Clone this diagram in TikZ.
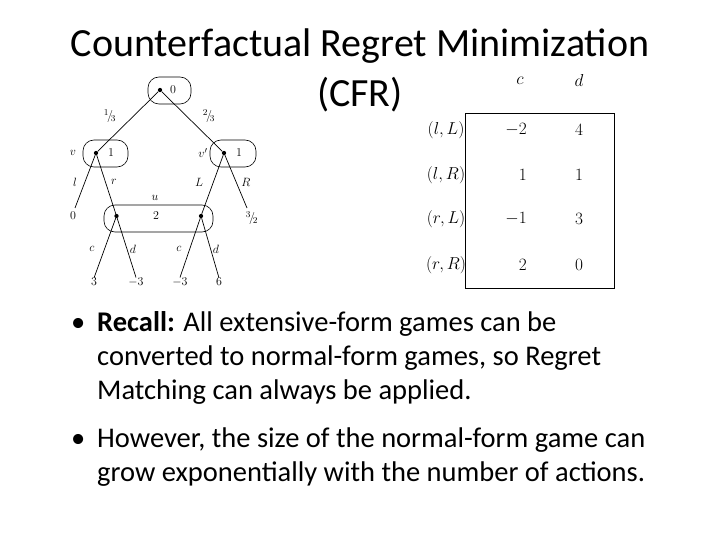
\documentclass[tikz,border=0pt]{standalone}
\usepackage{fontspec}
\setmainfont{Carlito}
\begin{document}
\begin{tikzpicture}[x=1pt,y=-1pt,
  dot/.style={circle,fill,inner sep=1.5pt},
  infoset/.style={draw,rounded corners=11pt,line width=0.6pt},
  lbl/.style={font=\fontsize{13}{15}\selectfont,inner sep=0pt},
  tbl/.style={font=\fontsize{16}{18}\selectfont,inner sep=0pt},
  edge/.style={line width=0.7pt}]
\useasboundingbox (0,0) rectangle (720,540);
\node[font=\fontsize{40}{50}\selectfont,align=center] (title) at (360,70) {Counterfactual Regret Minimization\\(CFR)};
% tree
\draw[infoset] (148,77) rectangle (191,104);
\draw[infoset] (83,140) rectangle (128,167);
\draw[infoset] (210,140) rectangle (256,167);
\draw[infoset] (104,205) rectangle (213,232);
\node[dot] (root) at (160,90) {};
\node[dot] (v) at (96,153) {};
\node[dot] (vp) at (224,153) {};
\node[dot] (u1) at (116.5,216) {};
\node[dot] (u2) at (201,216) {};
\node[lbl] (l0) at (73,216) {$0$};
\node[lbl] (l32) at (252,218) {$^3\!/\!_2$};
\coordinate (e0) at (75,208);
\coordinate (e32) at (247,208);
\node[lbl] (t1) at (94,282) {$3$};
\node[lbl] (t2) at (136,282) {$-3$};
\node[lbl] (t3) at (180,282) {$-3$};
\node[lbl] (t4) at (219,282) {$6$};
\draw[edge] (root) -- (v); \draw[edge] (root) -- (vp);
\draw[edge] (v) -- (e0); \draw[edge] (v) -- (u1) -- (t2.north);
\draw[edge] (vp) -- (e32); \draw[edge] (vp) -- (u2) -- (t3.north);
\draw[edge] (u1) -- (t1.north); \draw[edge] (u2) -- (t4.north);
\node[lbl] at (173,90) {$0$};
\node[lbl] at (111,153) {$1$};
\node[lbl] at (239,153) {$1$};
\node[lbl] at (156,216) {$2$};
\node[lbl] at (110,116) {$^1\!/\!_3$};
\node[lbl] at (209,116) {$^2\!/\!_3$};
\node[lbl] at (73,153) {$v$};
\node[lbl] at (203,153) {$v'$};
\node[lbl] at (75,182) {$l$};
\node[lbl] at (114,182) {$r$};
\node[lbl] at (199,182) {$L$};
\node[lbl] at (246,182) {$R$};
\node[lbl] at (155,198) {$u$};
\node[lbl] at (92,249) {$c$};
\node[lbl] at (133,249) {$d$};
\node[lbl] at (179,249) {$c$};
\node[lbl] at (216,249) {$d$};
% table
\draw[line width=0.7pt] (465,113) rectangle (614,288);
\node[tbl] at (520,81) {$c$};
\node[tbl] at (579,81) {$d$};
\foreach \y/\r/\a/\b in {130/{(l,L)}/{-2}/4,175/{(l,R)}/1/1,219/{(r,L)}/{-1}/3,265/{(r,R)}/2/0}{
  \node[tbl] at (446,\y) {$\r$};
  \node[tbl,anchor=east] at (527,\y) {$\a$};
  \node[tbl] at (579,\y) {$\b$};
}
% bullets
\begin{scope}[every node/.style={font=\fontsize{28.5}{34}\selectfont,anchor=west,inner sep=0pt}]
\node at (71,325) {\textbullet};
\node at (97,324) {\textbf{Recall:} All extensive-form games can be};
\node at (97,358) {converted to normal-form games, so Regret};
\node at (97,392) {Matching can always be applied.};
\node at (71,441) {\textbullet};
\node at (97,440) {However, the size of the normal-form game can};
\node at (97,474) {grow exponentially with the number of actions.};
\end{scope}
\end{tikzpicture}
\end{document}
